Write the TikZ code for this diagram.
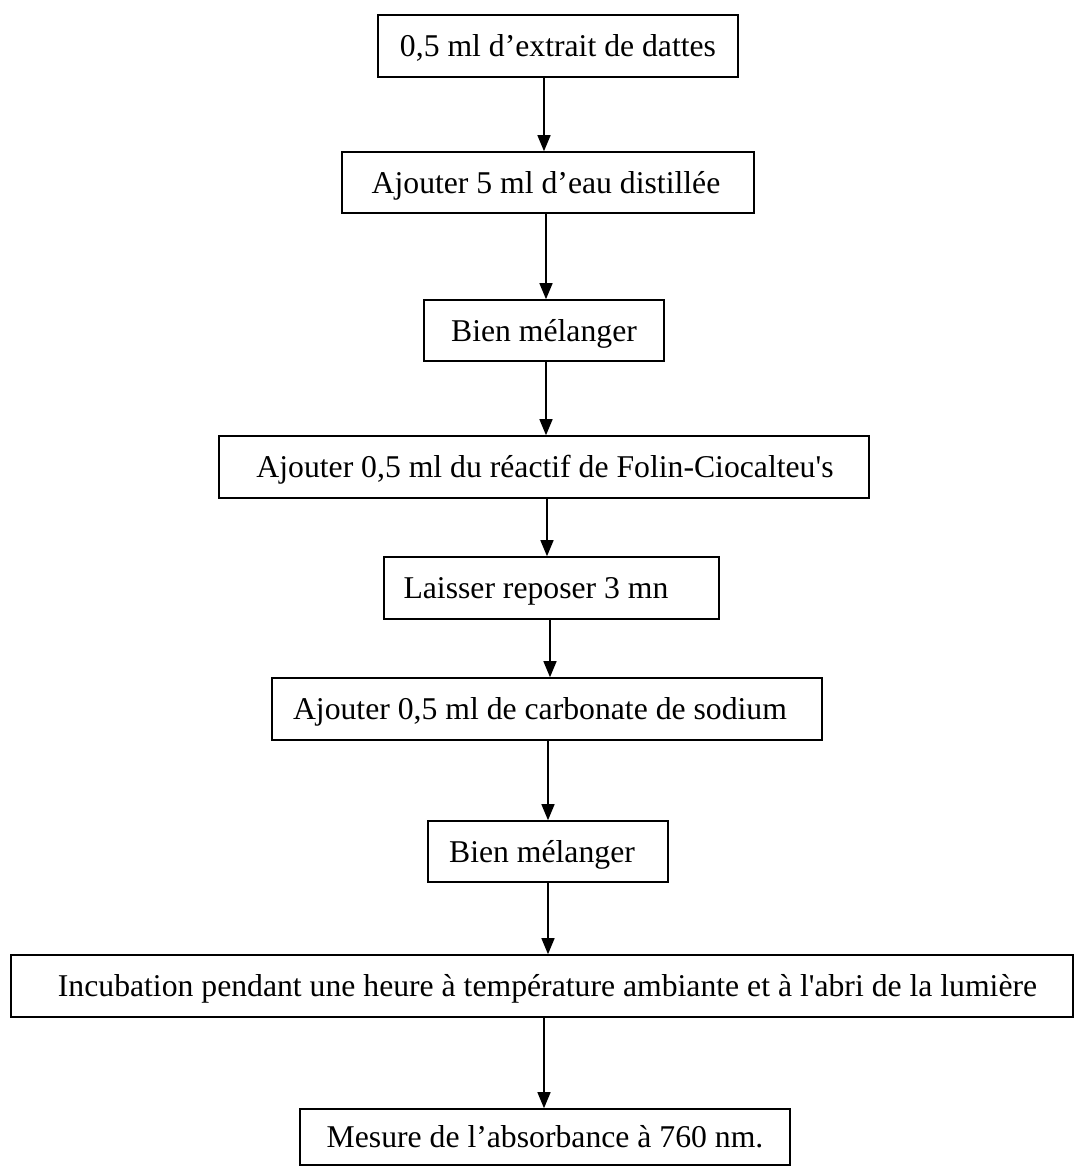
\documentclass[tikz,border=0pt]{standalone}
\usepackage{fontspec}
\setmainfont{Liberation Serif}[Ligatures=TeXOff]
\usetikzlibrary{arrows.meta}
\begin{document}
\begin{tikzpicture}[x=1pt,y=-1pt,
  stepbox/.style={draw, line width=1.6pt, inner sep=0pt},
  lbl/.style={font=\fontsize{31.7}{36}\selectfont, inner sep=0pt, anchor=base},
  arr/.style={line width=1.4pt, -{Triangle[length=16pt,width=13pt]}}]
\useasboundingbox (0,0) rectangle (1074,1167);
% boxes
\node[stepbox, minimum width=360pt, minimum height=62pt] (b1) at (558,46) {};
\node[stepbox, minimum width=412pt, minimum height=61pt] (b2) at (548,182.5) {};
\node[stepbox, minimum width=240pt, minimum height=61pt] (b3) at (544,330.5) {};
\node[stepbox, minimum width=650pt, minimum height=62pt] (b4) at (544,467) {};
\node[stepbox, minimum width=335pt, minimum height=62pt] (b5) at (551.5,588) {};
\node[stepbox, minimum width=550pt, minimum height=62pt] (b6) at (547,709) {};
\node[stepbox, minimum width=240pt, minimum height=61pt] (b7) at (548,851.5) {};
\node[stepbox, minimum width=1062pt, minimum height=62pt] (b8) at (542,986) {};
\node[stepbox, minimum width=490pt, minimum height=56pt] (b9) at (545,1137) {};
% texts
\node[lbl] (t1) at (558,56.5) {0,5 ml d’extrait de dattes};
\node[lbl] (t2) at (546,193) {Ajouter 5 ml d’eau distillée};
\node[lbl] (t3) at (544,341) {Bien mélanger};
\node[lbl] (t4) at (545,477.5) {Ajouter 0,5 ml du réactif de Folin-Ciocalteu's};
\node[lbl] (t5) at (536,598.5) {Laisser reposer 3 mn};
\node[lbl] (t6) at (540,719.5) {Ajouter 0,5 ml de carbonate de sodium};
\node[lbl] (t7) at (542,862) {Bien mélanger};
\node[lbl] (t8) at (547.5,996.5) {Incubation pendant une heure à température ambiante et à l'abri de la lumière};
\node[lbl] (t9) at (545,1147.5) {Mesure de l’absorbance à 760 nm.};
% arrow columns
\coordinate (x1) at (544,0);
\coordinate (x2) at (546,0);
\coordinate (x3) at (546,0);
\coordinate (x4) at (547,0);
\coordinate (x5) at (550,0);
\coordinate (x6) at (548,0);
\coordinate (x7) at (548,0);
\coordinate (x8) at (544,0);
\draw[arr] (b1.south -| x1) -- (b2.north -| x1);
\draw[arr] (b2.south -| x2) -- (b3.north -| x2);
\draw[arr] (b3.south -| x3) -- (b4.north -| x3);
\draw[arr] (b4.south -| x4) -- (b5.north -| x4);
\draw[arr] (b5.south -| x5) -- (b6.north -| x5);
\draw[arr] (b6.south -| x6) -- (b7.north -| x6);
\draw[arr] (b7.south -| x7) -- (b8.north -| x7);
\draw[arr] (b8.south -| x8) -- (b9.north -| x8);
\end{tikzpicture}
\end{document}
